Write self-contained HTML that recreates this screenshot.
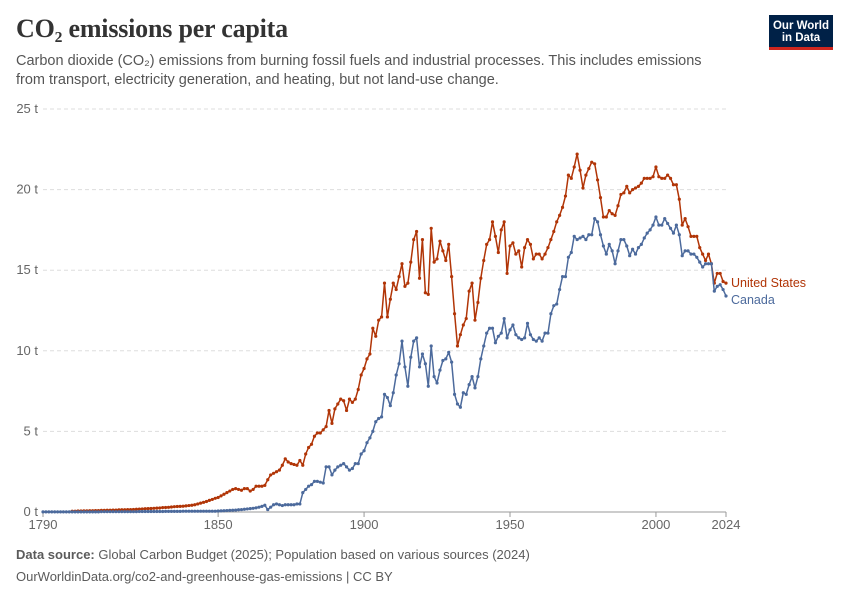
<!DOCTYPE html>
<html><head><meta charset="utf-8">
<style>
body{margin:0;background:#fff;width:850px;height:600px;overflow:hidden;font-family:"Liberation Sans",sans-serif;}
#wrap{position:relative;width:850px;height:600px;}
.title{position:absolute;left:16px;top:14px;font-family:"Liberation Serif",serif;font-size:26px;font-weight:bold;color:#333;letter-spacing:-0.2px;}
.sub{position:absolute;left:16px;top:52px;width:700px;font-size:14.5px;line-height:19px;color:#555;}
.logo{position:absolute;left:769px;top:15px;width:64px;height:35px;background:#002147;border-bottom:3px solid #ce261e;color:#fff;font-size:11.5px;line-height:12px;text-align:center;padding-top:5px;box-sizing:border-box;font-weight:bold;}
.foot{position:absolute;left:16px;font-size:13px;color:#5b5b5b;}
</style></head><body>
<div id="wrap">
<div class="title">CO₂ emissions per capita</div>
<div class="sub">Carbon dioxide (CO₂) emissions from burning fossil fuels and industrial processes. This includes emissions from transport, electricity generation, and heating, but not land-use change.</div>
<div class="logo">Our World<br>in Data</div>
<svg id="chart" width="850" height="600" style="position:absolute;left:0;top:0"></svg>
<div class="foot" style="top:547px"><b>Data source:</b> Global Carbon Budget (2025); Population based on various sources (2024)</div>
<div class="foot" style="top:569px">OurWorldinData.org/co2-and-greenhouse-gas-emissions | CC BY</div>
</div>
<script>
const yTicks=[0,5,10,15,20,25];
const yTickLabels=["0 t","5 t","10 t","15 t","20 t","25 t"];
const xTicks=[1790,1850,1900,1950,2000,2024];
const seriesNames=["United States","Canada"];
const usStartYear=1800;
const usValues=[0.05,0.05,0.06,0.06,0.07,0.07,0.08,0.08,0.09,0.09,
0.1,0.1,0.11,0.11,0.12,0.12,0.13,0.14,0.14,0.15,
0.15,0.16,0.17,0.18,0.19,0.2,0.21,0.22,0.23,0.24,
0.25,0.27,0.28,0.29,0.31,0.33,0.34,0.35,0.36,0.38,
0.4,0.42,0.45,0.5,0.55,0.6,0.65,0.72,0.78,0.85,
0.9,1.0,1.1,1.2,1.3,1.4,1.45,1.4,1.35,1.45,
1.45,1.3,1.4,1.6,1.6,1.6,1.65,2.0,2.3,2.4,
2.5,2.6,2.9,3.3,3.1,3.0,2.95,2.9,3.2,2.9,
3.6,4.0,4.2,4.7,4.9,4.9,5.1,5.3,6.3,5.5,
6.4,6.7,7.0,6.9,6.3,7.0,6.8,7.0,7.6,8.5,
8.9,9.5,9.8,11.4,10.9,11.9,12.1,14.2,12.1,13.2,
14.2,13.8,14.6,15.4,14.0,14.2,15.5,16.9,17.4,14.5,
16.9,13.6,13.5,17.6,15.5,15.7,16.8,16.2,15.6,16.6,
14.6,12.3,10.3,11.0,11.6,12.0,13.7,14.2,11.9,13.0,
14.5,15.6,16.6,16.9,18.0,17.1,16.1,17.5,18.0,14.8,
16.5,16.7,16.0,16.2,15.2,16.4,16.9,16.6,15.7,16.0,
16.0,15.7,16.0,16.4,16.9,17.4,18.0,18.4,18.9,19.6,
20.9,20.7,21.4,22.2,21.2,20.1,20.9,21.3,21.7,21.6,
20.6,19.5,18.3,18.3,18.7,18.5,18.4,19.0,19.7,19.8,
20.2,19.8,20.0,20.1,20.2,20.4,20.7,20.7,20.7,20.8,
21.4,20.8,20.7,20.7,20.9,20.7,20.3,20.3,19.4,17.8,
18.2,17.7,17.1,17.1,17.1,16.4,16.0,15.6,16.0,15.4,
14.2,14.8,14.8,14.3,14.2];
const caStartYear=1790;
const caValues=[0.01,0.01,0.01,0.01,0.01,0.01,0.01,0.01,0.01,0.01,
0.01,0.01,0.01,0.01,0.01,0.01,0.01,0.01,0.01,0.01,
0.02,0.02,0.02,0.02,0.02,0.02,0.02,0.02,0.02,0.02,
0.02,0.02,0.02,0.03,0.03,0.03,0.03,0.03,0.03,0.03,
0.03,0.03,0.04,0.04,0.04,0.04,0.04,0.04,0.05,0.05,
0.05,0.05,0.05,0.05,0.05,0.05,0.05,0.05,0.05,0.05,
0.06,0.07,0.08,0.09,0.1,0.11,0.12,0.14,0.15,0.17,
0.19,0.21,0.23,0.26,0.3,0.35,0.42,0.15,0.3,0.45,
0.5,0.45,0.4,0.45,0.45,0.45,0.45,0.5,0.5,1.2,
1.4,1.6,1.7,1.9,1.9,1.85,1.8,2.8,2.8,2.3,
2.6,2.8,2.9,3.0,2.8,2.6,2.7,3.0,3.0,3.6,
3.8,4.3,4.6,5.0,5.6,5.8,5.9,7.3,7.1,6.6,
7.4,8.5,9.2,10.6,9.0,7.8,9.6,10.6,10.8,9.0,
9.8,9.2,7.8,10.3,8.4,8.0,8.8,9.4,9.5,9.9,
9.3,7.3,6.7,6.5,7.4,7.3,7.9,8.4,7.7,8.4,
9.5,10.3,11.1,11.4,11.4,10.5,10.9,11.1,12.0,10.8,
11.3,11.6,11.0,10.8,10.7,10.8,11.7,11.0,10.7,10.6,
10.8,10.6,11.1,11.1,12.3,12.8,12.9,13.8,14.6,14.6,
15.8,16.1,17.1,16.9,17.0,17.1,16.9,17.2,17.2,18.2,
18.0,17.2,16.5,16.0,16.6,16.2,15.4,16.2,16.9,16.9,
16.5,15.9,16.3,16.0,16.4,16.6,17.0,17.3,17.5,17.8,
18.3,17.8,17.8,18.2,17.9,17.6,17.3,17.8,17.2,15.9,
16.2,16.2,16.0,16.0,15.8,15.5,15.2,15.4,15.4,15.4,
13.7,14.0,14.1,13.8,13.4];

const NS="http://www.w3.org/2000/svg";
const svg=document.getElementById('chart');
const X0=43,X1=726,Y0=512,Y1=109,YMIN=1790,YMAX=2024,VMAX=25;
function xScale(yr){return X0+(yr-YMIN)/(YMAX-YMIN)*(X1-X0);}
function yScale(v){return Y0-v/VMAX*(Y0-Y1);}
function mk(tag,attrs){const e=document.createElementNS(NS,tag);for(const k in attrs)e.setAttribute(k,attrs[k]);svg.appendChild(e);return e;}

yTicks.forEach((t,i)=>{
  const y=yScale(t);
  const g=mk('line',{x1:X0,x2:X1,y1:y,y2:y,stroke:t===0?'#999':'#ddd','stroke-width':1,'stroke-dasharray':t===0?'':'4,3'});
  
  
  const tx=mk('text',{x:38,y:y+4,'text-anchor':'end','font-size':13,fill:'#666','font-family':'Liberation Sans, sans-serif'});
  tx.textContent=yTickLabels[i];
  
  
});
xTicks.forEach(t=>{
  const x=xScale(t);
  const tk=mk('line',{x1:x,x2:x,y1:Y0,y2:Y0+5,stroke:'#999'});
  
  
  const tx=mk('text',{x:x,y:Y0+17,'text-anchor':'middle','font-size':13,fill:'#666','font-family':'Liberation Sans, sans-serif'});
  tx.textContent=String(t);
  
  
});

function drawSeries(start,vals,color,name){
  const pts=vals.map((v,i)=>[xScale(start+i),yScale(v)]);
  const p=mk('polyline',{points:pts.map(q=>q[0].toFixed(1)+','+q[1].toFixed(1)).join(' '),fill:'none',stroke:color,'stroke-width':1.5,'stroke-linejoin':'round'});
  
  
  pts.forEach(q=>{
    const c=mk('circle',{cx:q[0],cy:q[1],r:1.6,fill:color});
    
    
  });
  return pts[pts.length-1];
}
const usLast=drawSeries(usStartYear,usValues,'#b13507','united-states');
const caLast=drawSeries(caStartYear,caValues,'#4c6a9c','canada');
let lu=usLast[1]+4,lc=caLast[1]+4;
if(lc-lu<17){lc=lu+17;}
const l1=mk('text',{x:731,y:lu,'font-size':12.5,fill:'#b13507','font-family':'Liberation Sans, sans-serif'});
l1.textContent=seriesNames[0];


const l2=mk('text',{x:731,y:lc,'font-size':12.5,fill:'#4c6a9c','font-family':'Liberation Sans, sans-serif'});
l2.textContent=seriesNames[1];


</script>
</body></html>
